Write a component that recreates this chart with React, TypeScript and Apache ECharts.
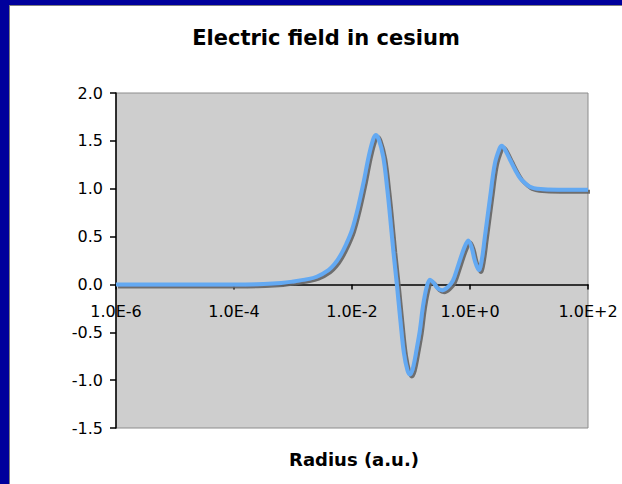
import React, { useEffect, useRef } from "react";
import * as echarts from "echarts";

// log10 of radius (a.u.)
const logRadius: number[] = [
  -6.0, -5.0, -4.0, -3.5, -3.2, -3.0, -2.8, -2.6, -2.4, -2.3, -2.2, -2.1, -2.0,
  -1.9, -1.8, -1.72, -1.65, -1.6, -1.55, -1.47, -1.4, -1.36, -1.3, -1.24, -1.18,
  -1.12, -1.06, -1.02, -0.97, -0.9, -0.85, -0.8, -0.74, -0.68, -0.62, -0.55,
  -0.47, -0.38, -0.29, -0.2, -0.1, -0.03, 0.03, 0.08, 0.15, 0.2, 0.25, 0.34,
  0.42, 0.5, 0.54, 0.6, 0.68, 0.77, 0.85, 0.95, 1.02, 1.14, 1.5, 2.0,
];
// electric field values
const field: number[] = [
  0.0, 0.0, 0.0, 0.005, 0.015, 0.03, 0.05, 0.08, 0.15, 0.21, 0.3, 0.42, 0.57,
  0.8, 1.08, 1.33, 1.5, 1.56, 1.52, 1.33, 0.98, 0.74, 0.35, 0.0, -0.38,
  -0.72, -0.9, -0.94, -0.88, -0.66, -0.48, -0.24, -0.04, 0.05, 0.02, -0.04,
  -0.06, -0.03, 0.04, 0.2, 0.38, 0.46, 0.38, 0.25, 0.15, 0.26, 0.49, 0.91,
  1.26, 1.42, 1.45, 1.4, 1.3, 1.19, 1.11, 1.05, 1.02, 1.0, 0.99, 0.99,
];
const yTicks: number[] = [-1.5, -1.0, -0.5, 0.0, 0.5, 1.0, 1.5, 2.0];
const xTickExponents: number[] = [-6, -4, -2, 0, 2];

const titleText = "Electric field in cesium";
const xAxisTitle = "Radius (a.u.)";

export default function App() {
  const ref = useRef<HTMLDivElement>(null);
  useEffect(() => {
    if (!ref.current) return;
    const chart = echarts.init(ref.current, null, { renderer: "svg" });
    const font = "'DejaVu Sans', Verdana, sans-serif";
    const gridTop = 93;
    const gridBottom = 56;
    const gridHeight = 484 - gridTop - gridBottom;
    const yMin = yTicks[0];
    const yMax = yTicks[yTicks.length - 1];
    // distance of y = 0 above the grid bottom, so the x axis sits on zero
    const zeroOffset = (gridHeight * (0 - yMin)) / (yMax - yMin);
    chart.setOption({
      animation: false,
      backgroundColor: "#ffffff",
      title: {
        text: titleText,
        left: 321,
        top: 22,
        textAlign: "center",
        textStyle: { fontFamily: font, fontSize: 21, fontWeight: "bold", color: "#000" },
      },
      grid: {
        left: 116,
        top: gridTop,
        right: 34,
        bottom: gridBottom,
        show: true,
        backgroundColor: "#cecece",
        borderColor: "#8c8c8c",
        borderWidth: 1,
      },
      xAxis: {
        type: "value",
        min: xTickExponents[0],
        max: xTickExponents[xTickExponents.length - 1],
        interval: 2,
        offset: -zeroOffset,
        axisLine: { onZero: false, lineStyle: { color: "#000", width: 1.5 } },
        axisTick: { show: true, inside: false, length: 5, lineStyle: { color: "#000", width: 1.5 } },
        axisLabel: {
          fontFamily: font,
          fontSize: 16,
          color: "#000",
          margin: 19,
          formatter: (v: number) => "1.0E" + (v >= 0 ? "+" : "-") + Math.abs(v),
        },
        splitLine: { show: false },
      },
      yAxis: {
        type: "value",
        min: yMin,
        max: yMax,
        interval: 0.5,
        axisLine: { show: true, onZero: false, lineStyle: { color: "#000", width: 1.5 } },
        axisTick: { show: true, inside: false, length: 6, lineStyle: { color: "#000", width: 1.5 } },
        axisLabel: {
          fontFamily: font,
          fontSize: 16,
          color: "#000",
          margin: 13,
          formatter: (v: number) => v.toFixed(1),
        },
        splitLine: { show: false },
      },
      graphic: [
        { type: "rect", shape: { x: 0, y: 0, width: 622, height: 5 }, style: { fill: "#00009c" }, silent: true },
        { type: "rect", shape: { x: 0, y: 0, width: 9, height: 484 }, style: { fill: "#00009c" }, silent: true },
        { type: "line", shape: { x1: 9.5, y1: 5, x2: 9.5, y2: 484 }, style: { stroke: "#808080", lineWidth: 1 }, silent: true },
        { type: "line", shape: { x1: 9, y1: 5.5, x2: 622, y2: 5.5 }, style: { stroke: "#808080", lineWidth: 1 }, silent: true },
        {
          type: "text",
          x: 354,
          y: 459,
          style: {
            text: xAxisTitle,
            fontFamily: font,
            fontSize: 18,
            fontWeight: "bold",
            fill: "#000",
            textAlign: "center",
            textVerticalAlign: "middle",
          },
          silent: true,
        },
      ],
      series: [
        {
          type: "line",
          data: logRadius.map((x, i) => [x, field[i]]),
          showSymbol: false,
          smooth: 0.35,
          lineStyle: {
            color: "#64a9f2",
            width: 4,
            shadowColor: "rgba(100,100,100,0.9)",
            shadowBlur: 1,
            shadowOffsetX: 2,
            shadowOffsetY: 2,
          },
        },
      ],
    });
    return () => chart.dispose();
  }, []);
  return (
    <div
      ref={ref}
      style={{ position: "absolute", left: 0, top: 0, width: 622, height: 484 }}
    />
  );
}
